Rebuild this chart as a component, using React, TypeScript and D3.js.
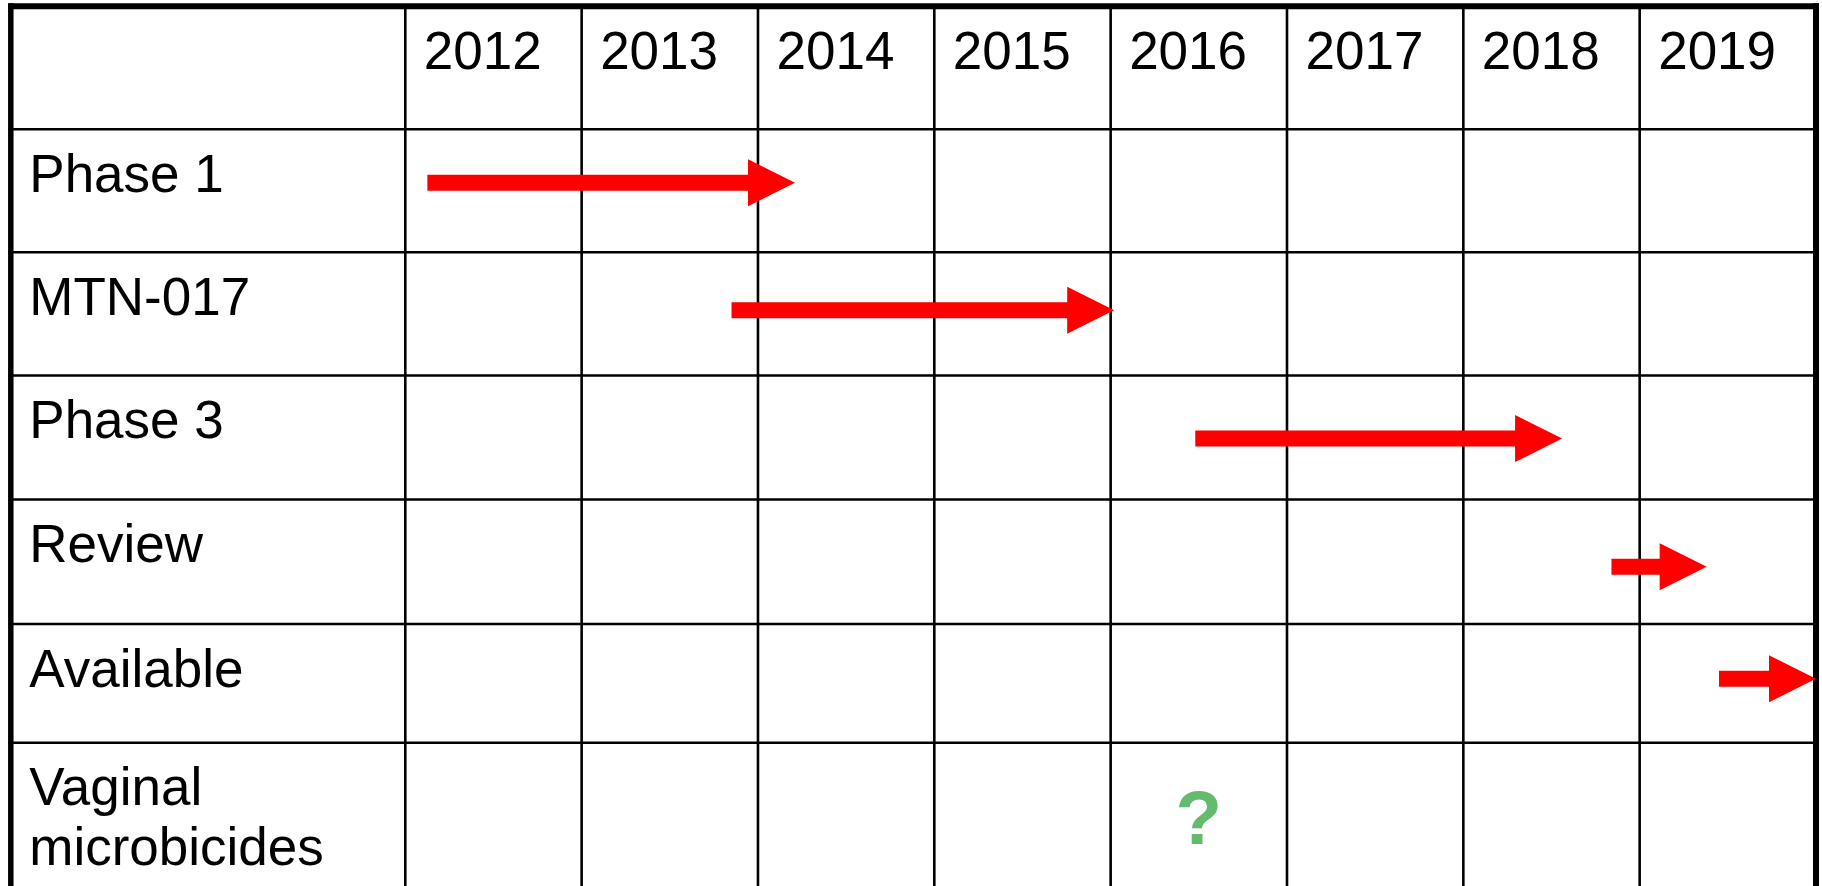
import React from "react";
import * as d3 from "d3";

const years = ["2012", "2013", "2014", "2015", "2016", "2017", "2018", "2019"];
const rowLabels = ["Phase 1", "MTN-017", "Phase 3", "Review", "Available", "Vaginal\nmicrobicides"];
const arrowTasks = ["Phase 1", "MTN-017", "Phase 3", "Review", "Available"];
const arrowStart = [2012.125, 2013.85, 2016.48, 2018.84, 2019.45];
const arrowEnd = [2014.21, 2016.02, 2018.56, 2019.38, 2020.0];
const arrowLane = [0.434, 0.471, 0.509, 0.54, 0.461];
const unknownTask = "Vaginal\nmicrobicides";
const unknownYear = 2016.5;
const unknownMark = "?";

const W = 1822;
const H = 886;
const LEFT = 10.8;
const RIGHT = 1816;
const COL0 = 405.3;
// table row edges (layout), header row first
const ROW_EDGES = [6.3, 129.3, 252.2, 375.5, 499.5, 624, 742.7, 866];

export default function App() {
  const x = d3.scaleLinear().domain([2012, 2020]).range([COL0, RIGHT]);
  const rowY = d3
    .scaleLinear()
    .domain(d3.range(ROW_EDGES.length))
    .range(ROW_EDGES);
  const rowIndex = (name: string) => rowLabels.indexOf(name) + 1;

  const shaft = 16;
  const headLen = 47;
  const headHalf = 23.5;
  const arrowPath = (x0: number, x1: number, y: number) => {
    const p = d3.path();
    const hb = x1 - headLen;
    p.moveTo(x0, y - shaft / 2);
    p.lineTo(hb, y - shaft / 2);
    p.lineTo(hb, y - headHalf);
    p.lineTo(x1, y);
    p.lineTo(hb, y + headHalf);
    p.lineTo(hb, y + shaft / 2);
    p.lineTo(x0, y + shaft / 2);
    p.closePath();
    return p.toString();
  };

  const fontSize = 53;
  const font = "'Liberation Sans', Arial, sans-serif";
  const TOP = rowY(0);

  return (
    <svg
      width={W}
      height={H}
      style={{ position: "absolute", left: 0, top: 0, display: "block", background: "#fff" }}
    >
      <rect x={0} y={0} width={W} height={H} fill="#fff" />
      {/* horizontal inner lines */}
      {d3.range(1, rowLabels.length + 1).map((i) => (
        <line key={"h" + i} x1={LEFT} x2={RIGHT} y1={rowY(i)} y2={rowY(i)} stroke="#000" strokeWidth={2.6} />
      ))}
      {/* vertical inner lines */}
      {years.map((yr, i) => (
        <line key={"v" + yr} x1={x(2012 + i)} x2={x(2012 + i)} y1={TOP} y2={H + 20} stroke="#000" strokeWidth={2.6} />
      ))}
      {/* outer border */}
      <line x1={LEFT - 2.5} x2={RIGHT + 3} y1={TOP} y2={TOP} stroke="#000" strokeWidth={6} />
      <line x1={LEFT} x2={LEFT} y1={TOP - 3} y2={H + 20} stroke="#000" strokeWidth={5.5} />
      <line x1={RIGHT} x2={RIGHT} y1={TOP - 3} y2={H + 20} stroke="#000" strokeWidth={6} />

      {/* year headers */}
      {years.map((yr, i) => (
        <text key={"t" + yr} x={x(2012 + i) + 18.5} y={rowY(0) + 62.7} fontFamily={font} fontSize={fontSize} fill="#000">
          {yr}
        </text>
      ))}
      {/* row labels */}
      {rowLabels.map((lab, i) => (
        <text key={"r" + i} x={LEFT + 18.5} y={rowY(i + 1) + 62.5} fontFamily={font} fontSize={fontSize} fill="#000">
          {lab.split("\n").map((part, j) => (
            <tspan key={j} x={LEFT + 18.5} dy={j === 0 ? 0 : 59.5}>
              {part}
            </tspan>
          ))}
        </text>
      ))}
      {/* arrows */}
      {arrowTasks.map((t, i) => {
        const r = rowIndex(t);
        const y = rowY(r) + arrowLane[i] * (rowY(r + 1) - rowY(r));
        return <path key={"a" + t} d={arrowPath(x(arrowStart[i]), x(arrowEnd[i]), y)} fill="#ff0000" />;
      })}
      {/* question mark */}
      <text
        x={x(unknownYear)}
        y={rowY(rowIndex(unknownTask)) + 101.3}
        textAnchor="middle"
        fontFamily={font}
        fontWeight="bold"
        fontSize={76}
        fill="#63bb6e"
      >
        {unknownMark}
      </text>
    </svg>
  );
}
